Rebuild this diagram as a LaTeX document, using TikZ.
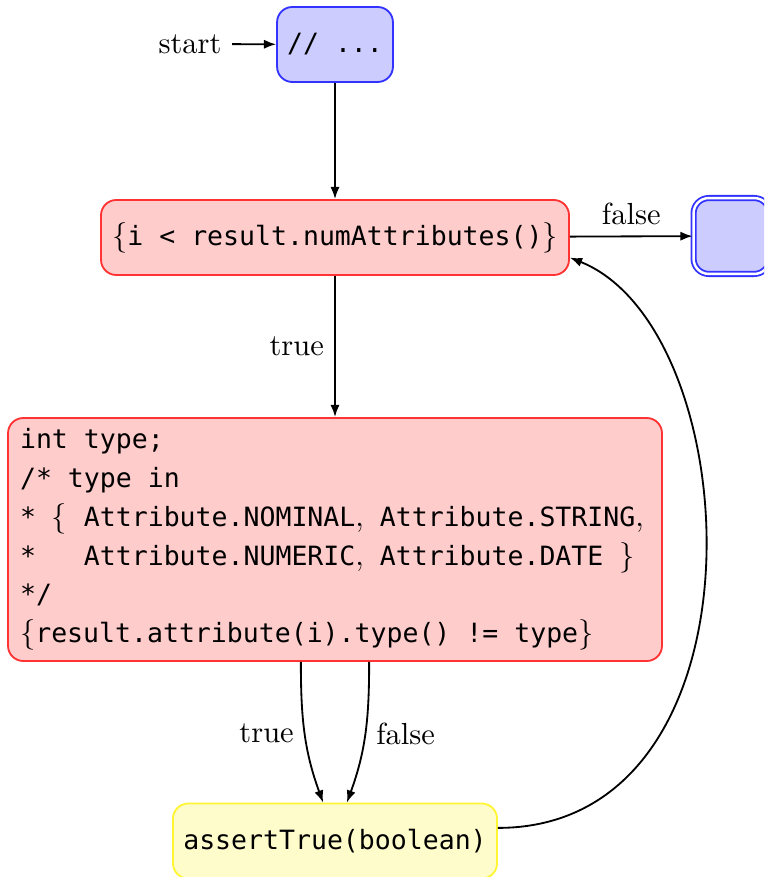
\documentclass[tikz,border=0pt]{standalone}
\usepackage{fontspec}
\newfontfamily\codefont{DejaVu Sans Mono}[Scale=0.87]
\usetikzlibrary{arrows.meta}
\newcommand\mylb{$\{$}
\newcommand\myrb{$\}$}
\newcommand\fixcodespace{\fontdimen2\font=\fontcharwd\font`\x\fontdimen3\font=0pt\fontdimen4\font=0pt\relax}
\begin{document}
\begin{tikzpicture}[x=0.328pt,y=-0.328pt,
  box/.style={rounded corners=5pt, semithick, inner sep=0pt,
    font=\codefont\fontsize{10}{12.7}\selectfont\fixcodespace},
  bluebox/.style={box, draw=blue!80, fill=blue!20},
  redbox/.style={box, draw=red!80, fill=red!20},
  yellowbox/.style={box, draw=yellow!80, fill=yellow!20},
  conn/.style={semithick, -{Latex[length=4pt,width=3pt]}}
]
\useasboundingbox (0,0) rectangle (764,877);
\clip (0,0) rectangle (764,877);

\node[bluebox, minimum width=38pt, minimum height=24.6pt] (s) at (335,44.5) {// ...};
\node (st) at (190,44) {start};
\node[redbox, minimum width=153.5pt, minimum height=24.6pt] (d) at (335,237.5)
  {\mylb i < result.numAttributes()\myrb};
\node[bluebox, double, double distance=0.8pt, minimum width=24.9pt, minimum height=24.9pt] (f) at (731.5,236) {};
\node[redbox, minimum width=214.5pt, minimum height=79.7pt, text width=206.6pt, align=left] (b) at (335,539.5)
  {\spaceskip=0pt\xspaceskip=0pt\relax
   \mbox{int type;}\\
   \mbox{/* type in}\\
   \mbox{{*} \rlap{\mylb}~~Attribute.NOMINAL$,$ Attribute.STRING$,$}\\
   \mbox{{*}~~~Attribute.NUMERIC$,$ Attribute.DATE \myrb}\\
   \mbox{{*}/}\\
   \mbox{\mylb result.attribute(i).type() != type\myrb}};
\node[yellowbox, minimum width=106.3pt, minimum height=24.6pt] (a) at (335,841) {assertTrue(boolean)};

\draw[conn] (st) -- (s);
\draw[conn] (s) -- (d);
\draw[conn] (d) -- node[above] {false} (f);
\draw[conn] (d) -- node[left] {true} (b);
\draw[conn] ([xshift=-11.2pt]b.south) to[out=-90,in=110] node[left] {true} ([xshift=-3.9pt]a.north);
\draw[conn] ([xshift=11.2pt]b.south) to[out=-90,in=70] node[right] {false} ([xshift=3.9pt]a.north);
\draw[conn] ([yshift=4.3pt]a.east) .. controls +(275,0) and +(180,72) .. ([yshift=-6.6pt]d.east);
\end{tikzpicture}
\end{document}
